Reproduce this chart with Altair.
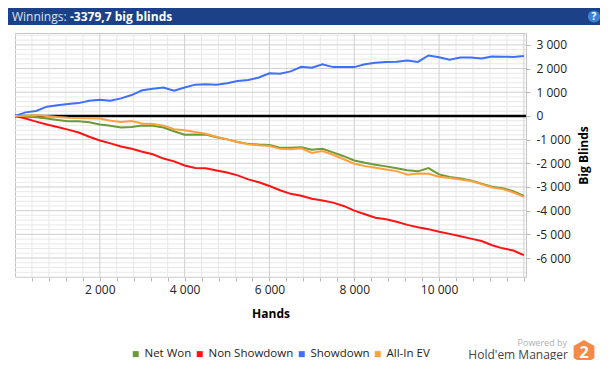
import altair as alt
import pandas as pd

# ---- data ----
HANDS = [0, 250, 500, 750, 1000, 1250, 1500, 1750, 2000, 2250, 2500, 2750, 3000,
         3250, 3500, 3750, 4000, 4250, 4500, 4750, 5000, 5250, 5500, 5750, 6000,
         6250, 6500, 6750, 7000, 7250, 7500, 7750, 8000, 8250, 8500, 8750, 9000,
         9250, 9500, 9750, 10000, 10250, 10500, 10750, 11000, 11250, 11500, 11750, 12000]

NET_WON = [0, -20, -60, -110, -170, -230, -230, -270, -360, -420, -490, -470, -410,
           -420, -490, -650, -790, -780, -790, -900, -990, -1100, -1180, -1210, -1230,
           -1340, -1340, -1320, -1430, -1390, -1540, -1700, -1880, -1980, -2060, -2130, -2210,
           -2290, -2340, -2200, -2470, -2580, -2640, -2730, -2860, -2990, -3050, -3180, -3380]

NON_SHOWDOWN = [0, -110, -240, -360, -470, -580, -700, -880, -1040, -1160, -1290, -1390, -1510,
                -1620, -1800, -1920, -2090, -2200, -2210, -2300, -2390, -2510, -2680, -2800, -2960,
                -3140, -3290, -3370, -3500, -3570, -3660, -3800, -4000, -4150, -4300, -4360, -4470,
                -4600, -4700, -4780, -4890, -4980, -5080, -5180, -5280, -5460, -5590, -5680, -5880]

SHOWDOWN = [0, 150, 210, 390, 450, 500, 540, 640, 680, 640, 740, 880, 1080,
            1150, 1200, 1060, 1200, 1320, 1340, 1315, 1380, 1470, 1520, 1620, 1800,
            1780, 1880, 2070, 2030, 2180, 2060, 2060, 2060, 2180, 2240, 2280, 2290,
            2340, 2280, 2550, 2480, 2370, 2470, 2470, 2420, 2510, 2500, 2490, 2530]

ALL_IN_EV = [0, 10, 30, 0, -50, -80, -85, -100, -110, -200, -260, -220, -320,
             -340, -410, -560, -610, -680, -750, -880, -990, -1100, -1200, -1240, -1270,
             -1390, -1410, -1370, -1560, -1480, -1640, -1830, -2020, -2120, -2190, -2260, -2330,
             -2480, -2430, -2440, -2570, -2620, -2680, -2750, -2880, -3020, -3090, -3230, -3420]

SERIES = ["Net Won", "Non Showdown", "Showdown", "All-In EV"]
COLORS = ["#6b9b37", "#ff1414", "#3f6fff", "#ffa040"]

Y_TICKS = [-6000, -5000, -4000, -3000, -2000, -1000, 0, 1000, 2000, 3000]
X_TICKS = [400 * k for k in range(1, 31)]
X_MAJOR = [2000, 4000, 6000, 8000, 10000, 12000]
X_MINOR = [v for v in X_TICKS if v % 2000 != 0]
Y_MAJOR = Y_TICKS
Y_MINOR = [200 * k for k in range(-34, 18) if k % 5 != 0]

TITLE_LABEL = "Winnings:"
TITLE_VALUE = "-3379,7 big blinds"

# ---- tables ----
rows = []
for name, vals in zip(SERIES, [NET_WON, NON_SHOWDOWN, SHOWDOWN, ALL_IN_EV]):
    for h, v in zip(HANDS, vals):
        rows.append({"hands": h, "bb": v, "series": name})
df = pd.DataFrame(rows)
one = pd.DataFrame({"d": [0]})
legend_df = pd.DataFrame({"series": SERIES, "hands": [0] * 4, "bb": [0] * 4})

FONT = "Open Sans"
xscale = alt.Scale(domain=[0, 12050], nice=False, zero=False)
yscale = alt.Scale(domain=[-6800, 3500], nice=False, zero=False)
cscale = alt.Scale(domain=SERIES, range=COLORS)

x_label = "datum.value % 2000 == 0 && datum.value <= 10000 ? replace(format(datum.value, ','), ',', ' ') : ''"
y_label = "(datum.value < 0 ? '-' : '') + replace(format(abs(datum.value), ','), ',', ' ')"

XAXIS = alt.Axis(values=X_TICKS, labelExpr=x_label, title="Hands", grid=False,
                 domain=False, tickSize=4, tickColor="#b8b8b8", labelPadding=3,
                 labelFont=FONT, labelFontSize=12, labelColor="#222222",
                 titleFont=FONT, titleFontSize=12, titleFontWeight="bold",
                 titleColor="#000000", titleX=255.5, titleY=36,
                 titleBaseline="middle", titleAlign="center", labelFlush=False,
                 labelOverlap=False)
YAXIS = alt.Axis(orient="right", values=Y_TICKS, labelExpr=y_label, title="Big Blinds",
                 grid=False, domain=False, tickSize=4, tickColor="#b8b8b8",
                 labelPadding=6, labelFont=FONT, labelFontSize=12,
                 labelColor="#222222", titleFont=FONT, titleFontSize=12,
                 titleFontWeight="bold", titleColor="#000000", titleAngle=270,
                 titleX=57, titleY=122, titleAlign="center", titleBaseline="middle",
                 labelFlush=False, labelOverlap=False)
LEGEND = alt.Legend(title=None, orient="none", legendX=115, legendY=315,
                    direction="horizontal", columns=4, symbolType="square",
                    symbolSize=36, symbolOpacity=1, symbolStrokeWidth=0,
                    labelFont=FONT, labelFontSize=11.5, labelColor="#222222",
                    labelOffset=3, columnPadding=2, padding=0, labelLimit=200)


def vrules(vals, color, width=1):
    return alt.Chart(pd.DataFrame({"v": vals})).mark_rule(color=color, strokeWidth=width).encode(
        x=alt.X("v:Q", scale=xscale, axis=XAXIS))


def hrules(vals, color, width=1):
    return alt.Chart(pd.DataFrame({"v": vals})).mark_rule(color=color, strokeWidth=width).encode(
        y=alt.Y("v:Q", scale=yscale, axis=YAXIS))


grid = alt.layer(
    vrules(X_MINOR, "#e8e8e8"),
    hrules(Y_MINOR, "#e8e8e8"),
    vrules(X_MAJOR, "#cfcfcf"),
    hrules(Y_MAJOR, "#cfcfcf"),
)

zero = alt.Chart(pd.DataFrame({"v": [0]})).mark_rule(color="#000000", strokeWidth=2.5).encode(
    y=alt.Y("v:Q", scale=yscale, axis=YAXIS))

legend_layer = alt.Chart(legend_df).mark_square(opacity=0, size=36).encode(
    x=alt.X("hands:Q", scale=xscale, axis=XAXIS),
    y=alt.Y("bb:Q", scale=yscale, axis=YAXIS),
    color=alt.Color("series:N", scale=cscale, legend=LEGEND),
)

lines = alt.Chart(df).mark_line(strokeWidth=2, interpolate="linear").encode(
    x=alt.X("hands:Q", scale=xscale, axis=XAXIS),
    y=alt.Y("bb:Q", scale=yscale, axis=YAXIS),
    color=alt.Color("series:N", scale=cscale, legend=LEGEND),
    detail="series:N",
)

bar = alt.Chart(one).mark_rect(color="#1c4186").encode(
    x=alt.value(-7), x2=alt.value(585), y=alt.value(-25), y2=alt.value(-8))
t1 = alt.Chart(one).mark_text(text=TITLE_LABEL, align="left", baseline="middle", font=FONT,
                              fontSize=12, color="#dde4ef").encode(x=alt.value(-3), y=alt.value(-16.5))
t2 = alt.Chart(one).mark_text(text=TITLE_VALUE, align="left", baseline="middle", font=FONT,
                              fontSize=12, fontWeight="bold", color="#ffffff").encode(
    x=alt.value(55), y=alt.value(-16.5))
icon = alt.Chart(one).mark_point(shape="circle", size=150, filled=True, color="#3c80d8",
                                 opacity=1).encode(x=alt.value(579), y=alt.value(-16.5))
icon_q = alt.Chart(one).mark_text(text="?", align="center", baseline="middle", font=FONT,
                                  fontSize=10, fontWeight="bold", color="#ffffff").encode(
    x=alt.value(579), y=alt.value(-16))

powered = alt.Chart(one).mark_text(text="Powered by", align="right", baseline="middle", font=FONT,
                                   fontSize=9, color="#b0b0b0").encode(x=alt.value(552), y=alt.value(310))
hm = alt.Chart(one).mark_text(text="Hold'em Manager", align="right", baseline="middle", font=FONT,
                              fontSize=12, color="#444444").encode(x=alt.value(553), y=alt.value(321.5))
HEX = "M0,-1L0.866,-0.5L0.866,0.5L0,1L-0.866,0.5L-0.866,-0.5Z"
hexagon = alt.Chart(one).mark_point(shape=HEX, size=576, filled=True, color="#f5894a",
                                    opacity=1).encode(x=alt.value(569), y=alt.value(319))
two = alt.Chart(one).mark_text(text="2", align="center", baseline="middle", font=FONT,
                               fontSize=16, fontWeight="bold", color="#ffffff").encode(
    x=alt.value(569), y=alt.value(320))

chart = alt.layer(
    grid, zero, legend_layer, lines, bar, t1, t2, icon, icon_q, powered, hm, hexagon, two
).properties(
    width=511, height=244,
    autosize=alt.AutoSizeParams(type="none"),
    padding={"left": 7, "top": 25, "right": 74, "bottom": 83},
    background="#ffffff",
).configure_view(stroke="#c4c4c4", strokeWidth=1)

chart.save("out.html", embed_options={"renderer": "svg", "actions": False})
